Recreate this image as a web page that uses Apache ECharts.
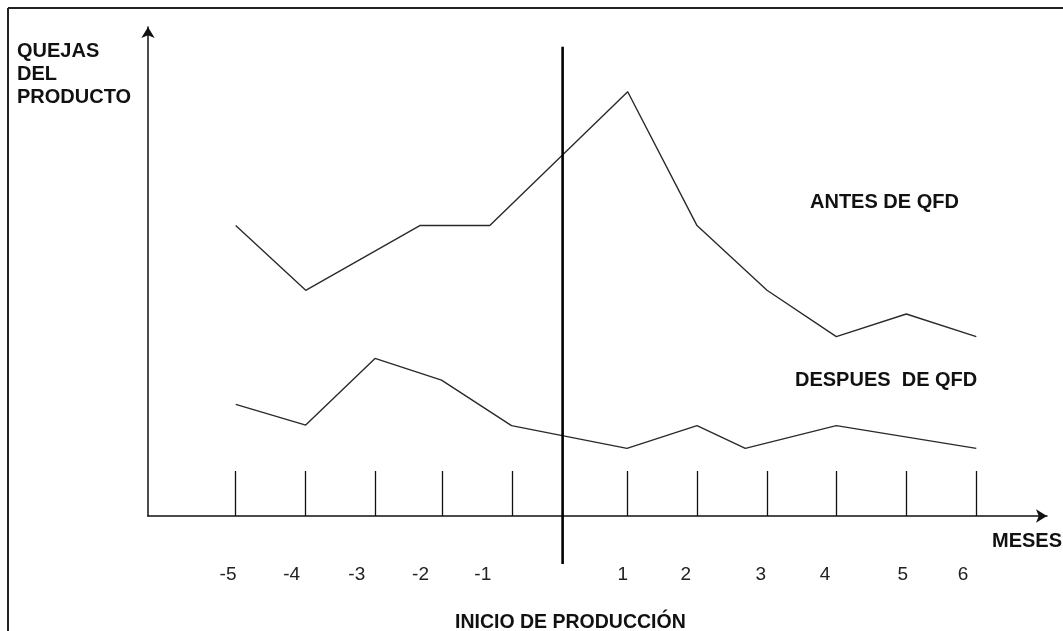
<!DOCTYPE html>
<html>
<head>
<meta charset="utf-8">
<script src="https://cdn.jsdelivr.net/npm/echarts@6/dist/echarts.min.js"></script>
<style>
  html, body { margin: 0; padding: 0; background: #fff; }
  #chart { width: 1063px; height: 631px; }
</style>
</head>
<body>
<div id="chart"></div>
<script>
// x in "month slots" (one slot per month, wider gap around production start)
const tickPos = [0, 1, 2, 2.95, 3.95, 5.6, 6.59, 7.59, 8.58, 9.58, 10.58];
const labelPos = [-0.11, 0.8, 1.73, 2.64, 3.53, 5.53, 6.43, 7.5, 8.42, 9.53, 10.39];
const tickLabels = ['-5', '-4', '-3', '-2', '-1', '1', '2', '3', '4', '5', '6'];

// y = complaint level (relative)
const antesX = [0, 1, 2.63, 3.63, 5.6, 6.59, 7.59, 8.58, 9.58, 10.58];
const antesY = [58.8, 45.7, 58.8, 58.8, 85.9, 58.8, 45.7, 36.3, 40.9, 36.3];
const despuesX = [0, 1, 1.99, 2.94, 3.94, 5.59, 6.59, 7.28, 8.58, 10.58];
const despuesY = [22.6, 18.4, 31.9, 27.5, 18.3, 13.7, 18.3, 13.7, 18.3, 13.7];

// production start marker
const inicioX = [4.67, 4.67];
const inicioY = [95, -9.7];

const font = '"Liberation Sans", Arial, sans-serif';
const zip = (xs, ys) => xs.map((x, i) => [x, ys[i]]);

const chart = echarts.init(document.getElementById('chart'));

chart.setOption({
  backgroundColor: '#fff',
  animation: false,
  grid: { left: 148, right: 16, top: 27, bottom: 115 },
  xAxis: {
    type: 'value',
    min: -1.253,
    max: 11.59,
    axisLine: {
      show: true,
      onZero: false,
      symbol: ['none', 'arrow'],
      symbolSize: [10, 11],
      lineStyle: { color: '#111', width: 1.5 }
    },
    axisTick: {
      show: true,
      inside: true,
      length: 45,
      customValues: tickPos,
      lineStyle: { color: '#111', width: 1.3 }
    },
    axisLabel: {
      show: true,
      customValues: labelPos,
      margin: 49,
      fontSize: 19,
      fontFamily: font,
      color: '#222',
      formatter: function (v) {
        const i = labelPos.findIndex(p => Math.abs(p - v) < 1e-6);
        return i >= 0 ? tickLabels[i] : '';
      }
    },
    splitLine: { show: false }
  },
  yAxis: {
    type: 'value',
    min: 0,
    max: 99,
    axisLine: {
      show: true,
      onZero: false,
      symbol: ['none', 'arrow'],
      symbolSize: [10, 11],
      lineStyle: { color: '#111', width: 1.5 }
    },
    axisTick: { show: false },
    axisLabel: { show: false },
    splitLine: { show: false }
  },
  series: [
    {
      name: 'ANTES DE QFD',
      type: 'line',
      data: zip(antesX, antesY),
      symbol: 'none',
      lineStyle: { color: '#2a2a2a', width: 1.4 }
    },
    {
      name: 'DESPUES DE QFD',
      type: 'line',
      data: zip(despuesX, despuesY),
      symbol: 'none',
      lineStyle: { color: '#2a2a2a', width: 1.4 }
    },
    {
      name: 'INICIO',
      type: 'line',
      data: zip(inicioX, inicioY),
      symbol: 'none',
      clip: false,
      lineStyle: { color: '#000', width: 2.6 }
    }
  ],
  graphic: [
    // frame
    { type: 'line', shape: { x1: 8, y1: 8, x2: 1063, y2: 8 }, style: { stroke: '#222', lineWidth: 2 } },
    { type: 'line', shape: { x1: 8, y1: 8, x2: 8, y2: 631 }, style: { stroke: '#222', lineWidth: 2 } },
    {
      type: 'text', left: 17, top: 40,
      style: {
        text: 'QUEJAS\nDEL\nPRODUCTO', font: 'bold 20px ' + font,
        lineHeight: 23, fill: '#111'
      }
    },
    {
      type: 'text', x: 810, y: 202,
      style: { text: 'ANTES DE QFD', font: 'bold 20px ' + font, fill: '#111', verticalAlign: 'middle' }
    },
    {
      type: 'text', x: 795, y: 380,
      style: { text: 'DESPUES  DE QFD', font: 'bold 20px ' + font, fill: '#111', verticalAlign: 'middle' }
    },
    {
      type: 'text', x: 992, y: 541,
      style: { text: 'MESES', font: 'bold 20px ' + font, fill: '#111', verticalAlign: 'middle' }
    },
    {
      type: 'text', x: 455, y: 623,
      style: { text: 'INICIO DE PRODUCCIÓN', font: 'bold 19.5px ' + font, fill: '#111', verticalAlign: 'middle' }
    }
  ]
});
</script>
</body>
</html>
